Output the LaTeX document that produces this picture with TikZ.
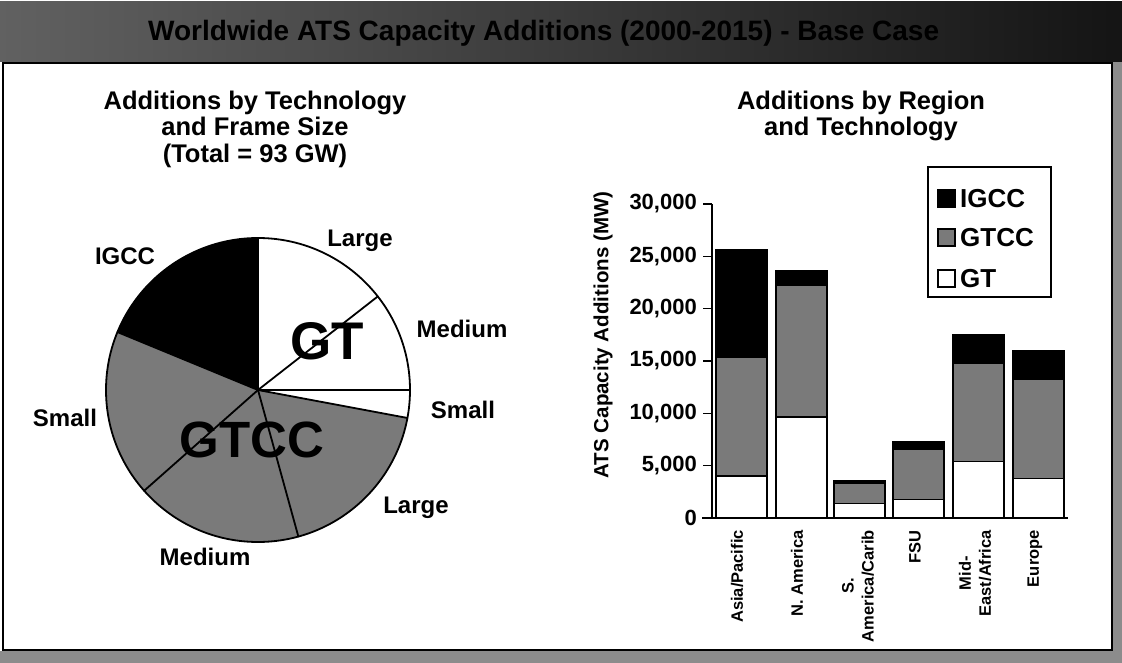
\documentclass[tikz,border=0pt]{standalone}
\usepackage{fontspec}
\setmainfont{Liberation Sans}
\begin{document}
\begin{tikzpicture}[x=1pt,y=-1pt,
  lbl/.style={font=\bfseries\fontsize{24}{26.5}\selectfont, inner sep=0pt, align=center},
  ttl/.style={font=\bfseries\fontsize{25.5}{26.5}\selectfont, inner sep=0pt, align=center},
  big/.style={font=\bfseries\fontsize{#1}{#1}\selectfont, inner sep=0pt},
  tick/.style={font=\bfseries\fontsize{22}{24}\selectfont, inner sep=0pt, anchor=east},
  cat/.style={font=\bfseries\fontsize{16.5}{20}\selectfont, inner sep=0pt, anchor=east, rotate=90, align=center},
  seg/.style={draw=black, line width=1.3pt},
  igcc/.style={seg, fill=black},
  gtcc/.style={seg, fill=black!52},
  gt/.style={seg, fill=white},
  divl/.style={line width=1.8pt, line cap=round}]
\useasboundingbox (0,0) rectangle (1122,663);
\fill[white] (0,0) rectangle (1122,663);
% header band
\shade[left color=black!62, right color=black!92] (0,2) rectangle (1122,62);
\node[big=28, anchor=west, text=black] (hdr) at (148,33) {Worldwide ATS Capacity Additions (2000-2015) - Base Case};
% frame strips
\fill[black!45] (1113,62) rectangle (1122,663);
\fill[black!45] (0,651) rectangle (1122,663);
\draw[line width=1.5pt] (3,63) rectangle (1112,650);

% ---------- pie ----------
\coordinate (pc) at (258,390);
\fill[black] (pc) -- ++(-90:152) arc[start angle=-90, end angle=-157.6, radius=152] -- cycle;
\fill[black!52] (pc) -- ++(-157.6:152) arc[start angle=-157.6, end angle=-349.4, radius=152] -- cycle;
\fill[white] (pc) -- ++(-349.4:152) arc[start angle=-349.4, end angle=-450, radius=152] -- cycle;
\foreach \a in {90,157.6,221.5,285.4,349.4,0,38}
  \draw[divl] (pc) -- ++(-\a:152);
\draw[line width=1.8pt] (pc) circle[radius=152];

\node[ttl] (t1) at (255,129) {Additions by Technology\\and Frame Size\\(Total = 93 GW)};
\node[lbl] (pIG) at (125,256) {IGCC};
\node[lbl] (pL1) at (360,241) {Large};
\node[lbl] (pM1) at (462,329) {Medium};
\node[lbl] (pS1) at (463,410) {Small};
\node[lbl] (pL2) at (416,508) {Large};
\node[lbl] (pM2) at (205,557) {Medium};
\node[lbl] (pS2) at (65,418) {Small};
\node[big=53] (pGT) at (327,341) {GT};
\node[big=51] (pGTCC) at (252,440) {GTCC};

% ---------- bar chart ----------
\node[ttl] (t2) at (861,116) {Additions by Region\\and Technology};
\begin{scope}[shift={(0,518)}, y={(0pt,10.47pt)}]
  \foreach \xl/\g/\c/\t in {716/4.0/15.3/25.6, 776/9.65/22.25/23.6, 834/1.4/3.3/3.6,
                           893/1.8/6.6/7.3, 953/5.4/14.8/17.55, 1013/3.8/13.2/15.95}{
    \draw[gt] (\xl,0) rectangle (\xl+51,\g);
    \draw[gtcc] (\xl,\g) rectangle (\xl+51,\c);
    \draw[igcc] (\xl,\c) rectangle (\xl+51,\t);
  }
  \draw[line width=1.4pt] (712,0) -- (712,30);
  \draw[line width=1.4pt] (702,0) -- (1068,0);
  \foreach \v/\s in {0/0,5/{5,000},10/{10,000},15/{15,000},20/{20,000},25/{25,000},30/{30,000}}{
    \draw[line width=1.4pt] (703,\v) -- (712,\v);
    \node[tick] at (697,\v) {\s};
  }
\end{scope}
\node[font=\bfseries\fontsize{20.5}{24}\selectfont, rotate=90, inner sep=0pt] (yl) at (603,335) {ATS Capacity Additions (MW)};

\node[cat] (c1) at (737,530) {Asia/Pacific};
\node[cat] (c2) at (797,530) {N. America};
\node[cat] (c3) at (858,530) {S.\\America/Carib};
\node[cat] (c4) at (915,530) {FSU};
\node[cat] (c5) at (975,530) {Mid-\\East/Africa};
\node[cat] (c6) at (1035,530) {Europe};

% legend
\draw[line width=1.3pt, fill=white] (928,167) rectangle (1051,297);
\draw[igcc] (938,190) rectangle (955,207);
\draw[gtcc] (938,229) rectangle (955,246);
\draw[gt] (938,270) rectangle (955,287);
\node[big=26, anchor=west] (l1) at (960,199) {IGCC};
\node[big=26, anchor=west] (l2) at (960,238) {GTCC};
\node[big=26, anchor=west] (l3) at (960,279) {GT};
\end{tikzpicture}
\end{document}
